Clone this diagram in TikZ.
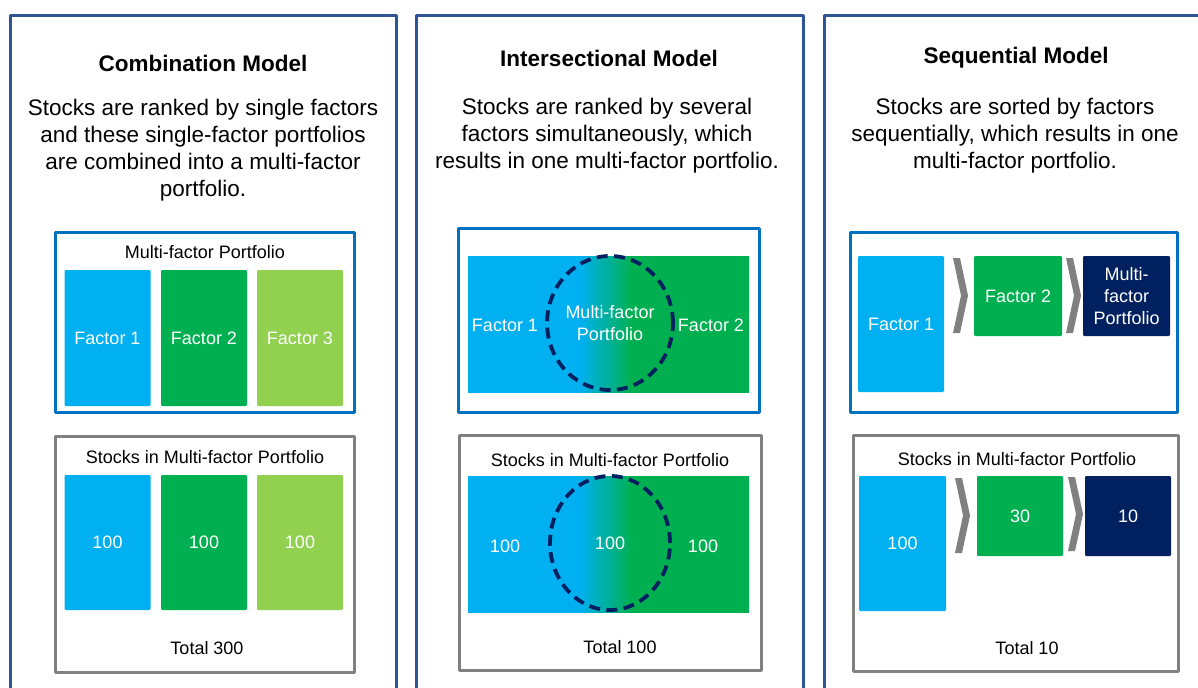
\documentclass[tikz,border=0pt]{standalone}
\usepackage{fontspec}
\setmainfont{Liberation Sans}
\usetikzlibrary{shapes.geometric}
\definecolor{frameblue}{HTML}{2F5597}
\definecolor{boxblue}{HTML}{0070C0}
\definecolor{cyanf}{HTML}{00B0F0}
\definecolor{greenf}{HTML}{00B050}
\definecolor{limef}{HTML}{92D050}
\definecolor{navyf}{HTML}{002060}
\definecolor{grayf}{HTML}{808080}
\tikzset{
  panel/.style={draw=frameblue,line width=1.5pt},
  factorbox/.style={draw=boxblue,line width=1.5pt},
  stockbox/.style={draw=grayf,line width=1.5pt},
  bar/.style={rectangle,rounded corners=.6pt,text=white,inner sep=0pt,align=center,font=\fontsize{9}{11}\selectfont},
  modeltitle/.style={font=\fontsize{11.25}{13.5}\selectfont\bfseries},
  bodytext/.style={align=center,font=\fontsize{11.25}{13.5}\selectfont},
  boxlabel/.style={font=\fontsize{9}{11}\selectfont},
  ring/.style={ellipse,draw=navyf,line width=1.9pt,dash pattern=on 5.5pt off 3.2pt,inner sep=0pt,text=white,align=center,font=\fontsize{9}{11}\selectfont},
}
% x, top, bottom
\newcommand\chevronshape[3]{\fill[grayf] (#1,#2) -- (#1+7,#2) -- (#1+15,{(#2+#3)/2}) -- (#1+7,#3) -- (#1,#3) -- (#1+8,{(#2+#3)/2}) -- cycle;}
\begin{document}
\begin{tikzpicture}[x=.5pt,y=-.5pt,line join=round]
    \useasboundingbox (0,0) rectangle (1198,687);
    % panels
    \draw[panel] (10,700) -- (10,15) -- (396,15) -- (396,700);
    \draw[panel] (416,700) -- (416,15) -- (803,15) -- (803,700);
    \draw[panel] (824,700) -- (824,15) -- (1210,15);
    \node[modeltitle] (t1) at (203,63) {Combination Model};
    \node[modeltitle] (t2) at (609,58) {Intersectional Model};
    \node[modeltitle] (t3) at (1016,58) {Sequential Model};
    \node[bodytext] (d1) at (203,150) {Stocks are ranked by single factors\\and these single-factor portfolios\\are combined into a multi-factor\\portfolio.};
    \node[bodytext] (d2) at (607,136) {Stocks are ranked by several\\factors simultaneously, which\\results in one multi-factor portfolio.};
    \node[bodytext] (d3) at (1015,136) {Stocks are sorted by factors\\sequentially, which results in one\\multi-factor portfolio.};

    % combination model
    \draw[factorbox] (55,232) rectangle (354,412);
    \draw[stockbox] (55,436) rectangle (354,672);
    \node[boxlabel] (cl1) at (205,252) {Multi-factor Portfolio};
    \node[boxlabel] (cl2) at (205,457) {Stocks in Multi-factor Portfolio};
    \foreach \c/\t/\x [count=\i] in {cyanf/Factor 1/107.5,greenf/Factor 2/204,limef/Factor 3/300}{
        \node[bar,fill=\c,minimum width=43pt,minimum height=68pt] (cf\i) at (\x,338) {\t};
        \node[bar,fill=\c,minimum width=43pt,minimum height=67.5pt] (cs\i) at (\x,542.5) {100};
    }
    \node[boxlabel] (ct) at (207,648) {Total 300};

    % intersectional model
    \draw[factorbox] (458,228) rectangle (759,412);
    \draw[stockbox] (459,435) rectangle (761,670);
    \node[boxlabel] (il2) at (610,460) {Stocks in Multi-factor Portfolio};
    \foreach \y in {256,476}{
        \begin{scope}
            \clip (468,\y) rectangle (749,\y+136);
            \fill[cyanf] (460,\y-5) rectangle (582,\y+141);
            \shade[left color=cyanf,right color=greenf] (580,\y-5) rectangle (632,\y+141);
            \fill[greenf] (630,\y-5) rectangle (760,\y+141);
        \end{scope}
    }
    \node[bar] (if1) at (505,325) {Factor 1};
    \node[ring,minimum width=60pt,minimum height=67pt] (imp) at (610,323) {Multi-factor\\Portfolio};
    \node[bar] (if2) at (711,325) {Factor 2};
    \node[bar] (is1) at (505,546) {100};
    \node[ring,minimum width=60pt,minimum height=67pt] (ism) at (610,543) {100};
    \node[bar] (is2) at (703,546) {100};
    \node[boxlabel] (it) at (620,647) {Total 100};

    % sequential model
    \draw[factorbox] (850,232) rectangle (1177,412);
    \draw[stockbox] (853,435) rectangle (1178,671);
    \node[boxlabel] (sl2) at (1017,459) {Stocks in Multi-factor Portfolio};
    \node[bar,fill=cyanf,minimum width=43pt,minimum height=68pt] (sf1) at (901,324) {Factor 1};
    \node[bar,fill=greenf,minimum width=44pt,minimum height=40pt] (sf2) at (1018,296) {Factor 2};
    \node[bar,fill=navyf,minimum width=43.5pt,minimum height=40pt] (sfm) at (1126.5,296) {Multi-\\factor\\Portfolio};
    \chevronshape{953}{258}{333}
    \chevronshape{1066}{258}{333}
    \node[bar,fill=cyanf,minimum width=43.5pt,minimum height=67.5pt] (ss1) at (902.5,543.5) {100};
    \node[bar,fill=greenf,minimum width=43pt,minimum height=40pt] (ss2) at (1020,516) {30};
    \node[bar,fill=navyf,minimum width=43pt,minimum height=40pt] (ssm) at (1128,516) {10};
    \chevronshape{955}{478}{553}
    \chevronshape{1068}{477}{551}
    \node[boxlabel] (st) at (1027,648) {Total 10};
\end{tikzpicture}
\end{document}
